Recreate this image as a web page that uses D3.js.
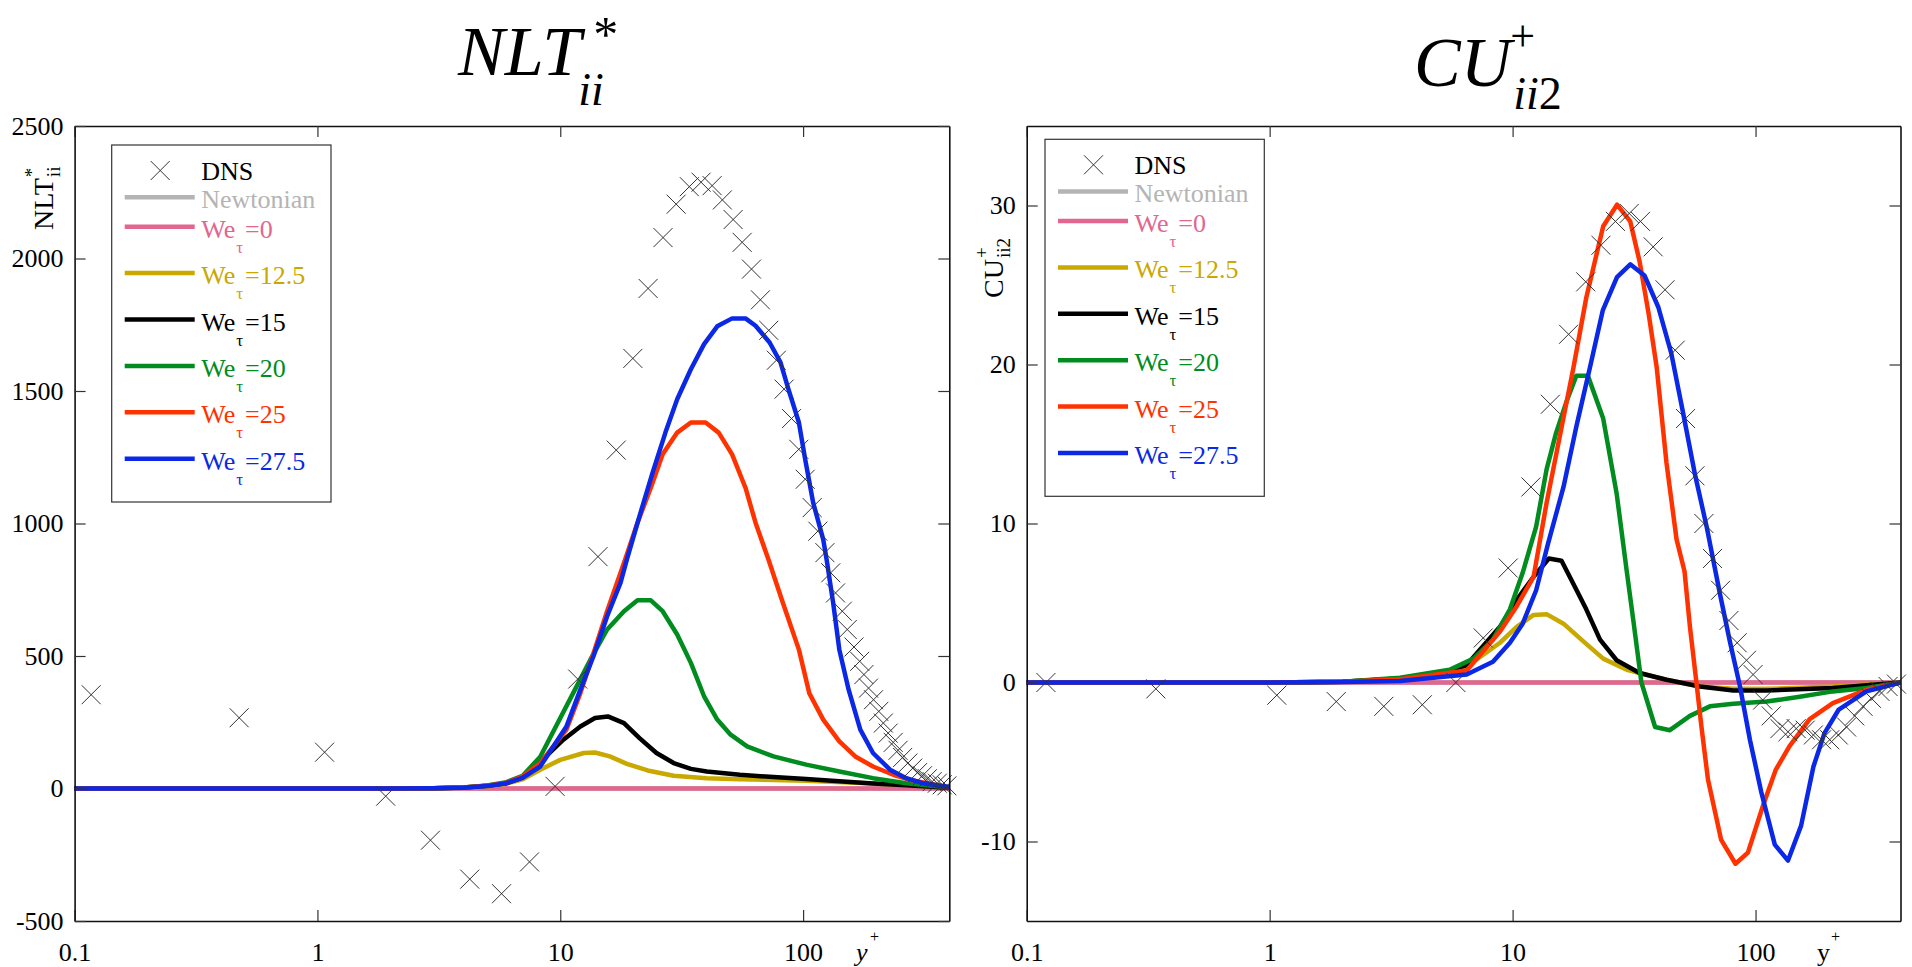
<!DOCTYPE html>
<html><head><meta charset="utf-8">
<script src="https://cdn.jsdelivr.net/npm/d3@7"></script>
<style>
body{margin:0;background:#fff;}
svg{display:block;}
text{font-family:"Liberation Serif","Times New Roman",serif;}
</style>
</head><body>
<svg id="chart" width="1912" height="967"></svg>
<script>
// ---------------- DATA ----------------
const xTickValues = [0.1, 1, 10, 100];
const nltYTicks = [-500, 0, 500, 1000, 1500, 2000, 2500];
const cuYTicks = [-10, 0, 10, 20, 30];
const legendWe = ["0", "12.5", "15", "20", "25", "27.5"];

// NLT*_ii panel  ([y+, value])
const nltNewtonian = [[0.1, 0], [400, 0]];
const nltWe0 = [[0.1, 0], [400, 0]];
const nltWe125 = [[0.1,0],[1,0],[2,0],[3,1],[4,3],[5,8],[6,18],[7,35],[8.27,71],[10,108],[12.5,134],[13.9,136],[16,121],[18.8,93],[22.9,68],[29.3,48],[40,39],[55,35],[103,29],[194,19],[300,10],[400,3]];
const nltWe15 = [[0.1,0],[1,0],[2,0],[3,1],[4,4],[5,10],[6,20],[7,42],[8.27,100],[10.3,184],[12.1,234],[13.9,266],[15.7,272],[18.3,247],[21.2,190],[24.9,134],[29.3,96],[34.5,74],[40.1,64],[54.9,52],[75.5,43],[103,36],[141,27],[194,19],[266,12],[400,3]];
const nltWe20 = [[0.1,0],[1,0],[2,0],[3,1],[4,4],[5,11],[6,24],[7,48],[8.27,120],[11.3,360],[13.3,486],[15.6,600],[18.3,669],[20.8,710],[23.6,710],[26.4,669],[30.3,581],[34.5,474],[39.1,348],[44.3,260],[50.3,203],[58.8,159],[75.5,121],[103,90],[141,64],[194,39],[266,20],[400,4]];
const nltWe25 = [[0.1,0],[1,0],[2,0],[3,1],[4,4],[5,10],[6,22],[7,45],[8.27,96],[10.6,222],[12.1,360],[13.7,510],[15.6,670],[18.5,864],[20.8,1003],[23.6,1135],[26.4,1261],[30.3,1343],[34.5,1381],[39.7,1381],[44.9,1343],[51,1261],[57.9,1135],[63.7,1003],[72,864],[82.6,700],[96.1,524],[106,360],[121,260],[141,178],[164,121],[194,83],[235,52],[283,30],[400,4]];
const nltWe275 = [[0.1,0],[1,0],[2,0],[3,1],[4,3],[5,9],[6,20],[7,40],[8.27,83],[10.6,234],[12.1,373],[13.7,499],[15.6,650],[17.7,776],[18.8,864],[21.2,1028],[24,1192],[27.1,1343],[30.3,1469],[34.5,1582],[39.1,1677],[44.3,1744],[51,1774],[57.9,1774],[63.7,1746],[72.8,1683],[80.7,1608],[87,1507],[96.1,1381],[102,1242],[110,1079],[121,940],[125,864],[133,700],[141,524],[154,373],[172,222],[194,134],[228,71],[266,39],[310,20],[400,6]];
const nltDNS = [[0.117,354],[0.476,267],[1.07,137],[1.91,-29],[2.92,-195],[4.24,-342],[5.73,-397],[7.47,-277],[9.52,8],[11.8,413],[14.3,875],[17.0,1277],[19.9,1623],[23.0,1887],[26.5,2079],[30.0,2205],[34.0,2271],[38.0,2288],[42.2,2275],[46.5,2221],[51.5,2147],[56.1,2061],[61.3,1960],[66.7,1844],[72.2,1729],[77.6,1616],[83.5,1507],[89.6,1396],[96.0,1280],[102,1167],[109,1060],[115,971],[123,890],[130,814],[136,738],[145,669],[152,600],[162,534],[171,480],[178,430],[186,379],[195,335],[205,291],[214,247],[224,209],[235,174],[246,144],[257,117],[270,96],[283,77],[296,60],[310,48],[325,37],[340,26],[357,20],[374,14],[391,10]];

// CU+_ii2 panel
const cuNewtonian = [[0.1, 0], [395, 0]];
const cuWe0 = [[0.1, 0], [395, 0]];
const cuWe125 = [[0.1,0],[1,0],[2,0.05],[3.44,0.25],[5,0.5],[6.47,1.0],[8.87,2.5],[10.4,3.5],[12.2,4.25],[13.8,4.3],[16.2,3.7],[19.5,2.6],[23.6,1.5],[29.5,0.8],[43,0.17],[59,-0.25],[81,-0.4],[111,-0.4],[208,-0.25],[395,0]];
const cuWe15 = [[0.1,0],[1,0],[2,0.05],[3.44,0.25],[5,0.55],[6.47,1.1],[8.87,3.5],[10.4,5.2],[12.2,6.65],[14.1,7.8],[15.9,7.66],[17.8,6.2],[20.1,4.6],[22.9,2.7],[26.8,1.4],[33.3,0.6],[43,0.17],[59,-0.25],[81,-0.5],[111,-0.5],[208,-0.35],[395,0]];
const cuWe20 = [[0.1,0],[1,0],[2,0.05],[3.44,0.3],[5.5,0.8],[6.9,1.5],[8.3,2.7],[9.75,4.6],[11.0,6.9],[12.5,9.8],[13.8,13.4],[15.1,15.7],[16.7,17.7],[18.3,19.3],[20.4,19.3],[23.6,16.6],[26.8,11.9],[29.5,7.0],[31.4,3.9],[33.9,0],[38.6,-2.8],[44.4,-3.0],[53.7,-2.1],[64.9,-1.5],[81,-1.34],[111,-1.2],[152,-0.9],[208,-0.56],[286,-0.35],[395,0]];
const cuWe25 = [[0.1,0],[1,0],[2,0.04],[3.44,0.2],[6.47,0.75],[8.87,3.2],[10.4,4.8],[12.2,6.65],[13.8,11.3],[15.6,15.4],[17.8,19.8],[20.1,24.2],[23.6,28.7],[26.9,30.05],[30.5,29.0],[33.3,26.5],[36.3,23.2],[39.2,19.8],[43,13.8],[47.3,9.0],[51,7.0],[53.7,3.5],[57.1,0],[59.9,-2.8],[63.7,-6.1],[72.2,-9.9],[82.7,-11.4],[93,-10.7],[107,-7.8],[121,-5.5],[138,-4.0],[167,-2.3],[208,-1.3],[286,-0.46],[395,0]];
const cuWe275 = [[0.1,0],[1,0],[2,0.03],[3.44,0.1],[6.47,0.5],[8.3,1.3],[9.75,2.5],[11.0,3.7],[12.5,5.8],[14.0,8.75],[16.2,12.3],[18.3,16.1],[20.8,19.8],[23.5,23.4],[26.9,25.5],[30.5,26.3],[34.9,25.6],[39.8,23.6],[45,20.7],[50.4,16.9],[56.3,13.1],[62.9,9.8],[69.1,6.65],[71.3,5.6],[78.6,2.5],[86.3,-0.25],[94.8,-3.6],[105.6,-6.9],[120,-10.2],[136,-11.2],[154,-9.0],[173,-5.3],[192,-3.2],[220,-1.7],[286,-0.56],[395,0]];
const cuDNS = [[0.12,0],[0.34,-0.4],[1.07,-0.8],[1.88,-1.2],[2.95,-1.5],[4.25,-1.4],[5.84,0],[7.57,2.8],[9.59,7.2],[11.9,12.3],[14.3,17.5],[17.0,21.9],[20.0,25.2],[23.1,27.5],[26.5,29.0],[30.2,29.5],[33.6,29.0],[37.9,27.4],[42.4,24.7],[46.7,20.9],[51.5,16.6],[56.3,13.0],[61.3,10.0],[66.5,7.8],[71.8,5.8],[77.7,3.9],[84,2.5],[91.8,1.4],[97.7,0.5],[107,-1.1],[116,-2.1],[126,-2.9],[136,-3.1],[147,-2.9],[160,-3.0],[173,-3.3],[187,-3.6],[202,-3.6],[219,-3.3],[237,-2.8],[256,-2.1],[277,-1.5],[300,-1.0],[325,-0.56],[351,-0.25],[380,-0.1]];

// ---------------- STYLE ----------------
const colNewt = "#b4b4b4", colWe0 = "#e2668e", colWe125 = "#c9a800",
      colWe15 = "#000000", colWe20 = "#008c1e", colWe25 = "#ff3200", colWe275 = "#0a28e6";
const weColors = [colWe0, colWe125, colWe15, colWe20, colWe25, colWe275];
const TOP = 126, BOTTOM = 921;
const svg = d3.select("#chart");
svg.append("rect").attr("width",1912).attr("height",967).attr("fill","#fff");

function drawPanel(cfg) {
  const g = svg.append("g");
  const x = d3.scaleLog().domain(cfg.xDomain).range([cfg.left, cfg.right]);
  const y = d3.scaleLinear().domain(cfg.yDomain).range([BOTTOM, TOP]);
  const line = d3.line().x(d => x(d[0])).y(d => y(d[1]));

  const series = [
    {data: cfg.newt, color: colNewt},
    ...cfg.we.map((d, i) => ({data: d, color: weColors[i]}))
  ];
  g.selectAll("path.series").data(series).join("path")
    .attr("class","series")
    .attr("d", d => line(d.data))
    .attr("fill","none").attr("stroke", d => d.color)
    .attr("stroke-width", 4.5).attr("stroke-linejoin","round");

  const m = 9.5;
  g.selectAll("path.dns").data(cfg.dns).join("path")
    .attr("class","dns")
    .attr("d", d => { const cx = x(d[0]), cy = y(d[1]);
      return `M${cx-m},${cy-m}L${cx+m},${cy+m}M${cx-m},${cy+m}L${cx+m},${cy-m}`; })
    .attr("stroke","#333").attr("stroke-width",1).attr("fill","none");

  // axes
  const fmt = d => d === 0.1 ? "0.1" : String(d);
  const ax = [
    g.append("g").attr("transform",`translate(0,${BOTTOM})`)
      .call(d3.axisBottom(x).tickValues(xTickValues).tickFormat(fmt).tickSizeInner(-11).tickSizeOuter(0).tickPadding(22)),
    g.append("g").attr("transform",`translate(0,${TOP})`)
      .call(d3.axisTop(x).tickValues(xTickValues).tickFormat("").tickSizeInner(-11).tickSizeOuter(0)),
    g.append("g").attr("transform",`translate(${cfg.left},0)`)
      .call(d3.axisLeft(y).tickValues(cfg.yTicks).tickFormat(String).tickSizeInner(-11).tickSizeOuter(0).tickPadding(11)),
    g.append("g").attr("transform",`translate(${cfg.right},0)`)
      .call(d3.axisRight(y).tickValues(cfg.yTicks).tickFormat("").tickSizeInner(-11).tickSizeOuter(0))
  ];
  ax.forEach(a => {
    a.attr("font-family", null).attr("font-size", null);
    a.select(".domain").attr("stroke","#111").attr("stroke-width",1.6);
    a.selectAll(".tick line").attr("stroke","#333").attr("stroke-width",1.2);
    a.selectAll(".tick text").attr("font-size",26).attr("fill","#000")
      .style("font-family","'Liberation Serif',serif");
  });

  // y+ label
  g.append("text").attr("x", cfg.yplusX).attr("y", 961).attr("font-size", 26)
    .attr("font-style", cfg.yplusItalic ? "italic" : "normal").text("y");
  g.append("text").attr("x", cfg.yplusX + 14).attr("y", 942).attr("font-size", 16).text("+");

  // rotated axis label
  const lab = g.append("g").attr("transform", `translate(${cfg.ylab.x},${cfg.ylab.y}) rotate(-90)`);
  const main = lab.append("text").attr("x",0).attr("y",0).attr("font-size",28).text(cfg.ylab.main);
  const L = main.node().getComputedTextLength();
  lab.append("text").attr("x", L + 1).attr("y", 7).attr("font-size", 19).text(cfg.ylab.sub);
  lab.append("text").attr("x", L + 1).attr("y", -15).attr("font-size", 19).text(cfg.ylab.sup);

  // title
  const T = cfg.title;
  const t = g.append("text").attr("x", T.x).attr("y", T.y)
    .attr("font-size", 70).attr("font-style","italic").text(T.main);
  const TL = t.node().getComputedTextLength();
  const sub = g.append("text").attr("x", T.x + TL + T.subDx).attr("y", T.y + T.subDy)
    .attr("font-size", 46).attr("font-style","italic").text(T.subI);
  if (T.subN) sub.append("tspan").attr("font-style","normal").text(T.subN);
  g.append("text").attr("x", T.x + TL + T.supDx).attr("y", T.y + T.supDy)
    .attr("font-size", T.supSize).attr("font-style", "normal").text(T.sup);

  // legend
  const L0 = cfg.legend;
  const lg = g.append("g").attr("transform", `translate(${L0.x},${L0.y})`);
  lg.append("rect").attr("width", 219.3).attr("height", 357).attr("fill","#fff")
    .attr("stroke","#333").attr("stroke-width",1.2);
  const lx1 = 13, lx2 = 83, tx = 89.5;
  lg.append("path").attr("d", `M${48.5-m},${25.5-m}L${48.5+m},${25.5+m}M${48.5-m},${25.5+m}L${48.5+m},${25.5-m}`)
    .attr("stroke","#333").attr("stroke-width",1);
  lg.append("text").attr("x", tx).attr("y", 25.5 + 9.7).attr("font-size", 26).text("DNS");
  lg.append("line").attr("x1", lx1).attr("x2", lx2).attr("y1", 52.2).attr("y2", 52.2)
    .attr("stroke", colNewt).attr("stroke-width", 4.5);
  lg.append("text").attr("x", tx).attr("y", 52.2 + 10.3).attr("font-size", 26).attr("fill", colNewt).text("Newtonian");
  legendWe.forEach((w, i) => {
    const ry = 81.7 + 46.4 * i, c = weColors[i];
    lg.append("line").attr("x1", lx1).attr("x2", lx2).attr("y1", ry).attr("y2", ry)
      .attr("stroke", c).attr("stroke-width", 4.5);
    const we = lg.append("text").attr("x", tx).attr("y", ry + 11).attr("font-size", 26).attr("fill", c).text("We");
    const wl = we.node().getComputedTextLength();
    const tau = lg.append("text").attr("x", tx + wl + 1).attr("y", ry + 26).attr("font-size", 17).attr("fill", c).text("τ");
    const tl = tau.node().getComputedTextLength();
    lg.append("text").attr("x", tx + wl + tl + 3).attr("y", ry + 11).attr("font-size", 26).attr("fill", c).text("=" + w);
  });
}

drawPanel({
  left: 74.6, right: 949.3, xDomain: [0.1, 400], yDomain: [-500, 2500], yTicks: nltYTicks,
  newt: nltNewtonian, we: [nltWe0, nltWe125, nltWe15, nltWe20, nltWe25, nltWe275], dns: nltDNS,
  yplusX: 856, yplusItalic: true,
  ylab: {x: 53, y: 230, main: "NLT", sub: "ii", sup: "*"},
  title: {x: 458, y: 75, main: "NLT", subI: "ii", subDx: -3, sup: "*", supDx: 12, supDy: -24, supSize: 50, subDy: 30},
  legend: {x: 111.7, y: 145}
});
drawPanel({
  left: 1026.7, right: 1900.5, xDomain: [0.1, 395], yDomain: [-15, 35], yTicks: cuYTicks,
  newt: cuNewtonian, we: [cuWe0, cuWe125, cuWe15, cuWe20, cuWe25, cuWe275], dns: cuDNS,
  yplusX: 1817, yplusItalic: false,
  ylab: {x: 1003, y: 298, main: "CU", sub: "ii2", sup: "+"},
  title: {x: 1414, y: 86, main: "CU", subI: "ii", subDx: 2, subN: "2", sup: "+", supDx: -1, supDy: -35, supSize: 44, subDy: 23},
  legend: {x: 1045, y: 139.3}
});
</script>
</body></html>
